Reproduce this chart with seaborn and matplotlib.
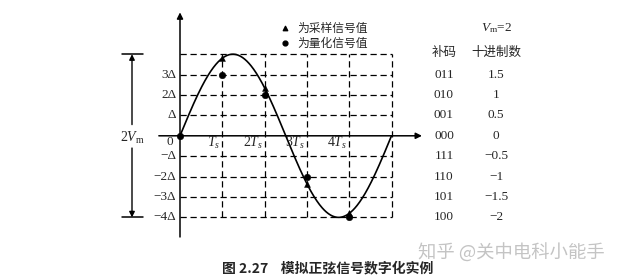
import numpy as np
import pandas as pd
import matplotlib
matplotlib.use("Agg")
import matplotlib.pyplot as plt
import seaborn as sns

# ---------------- data ----------------
amplitude = 4.0          # in units of delta
period = 5.0             # in units of Ts
sample_t = [1, 2, 3, 4]
sample_v = [3.8, 2.35, -2.35, -3.8]
quant_t = [0, 1, 2, 3, 4]
quant_v = [0, 3, 2, -2, -4]
grid_levels = [4, 3, 2, 1, -1, -2, -3, -4]
grid_times = [1, 2, 3, 4, 5]
ytick_levels = [3, 2, 1, -1, -2, -3, -4]
ytick_labels = ["3Δ", "2Δ", "Δ", "−Δ", "−2Δ", "−3Δ", "−4Δ"]
xtick_times = [1, 2, 3, 4]
xtick_labels = [r"$T_s$", r"$2T_s$", r"$3T_s$", r"$4T_s$"]
code_levels = [3, 2, 1, 0, -1, -2, -3, -4]
codes = ["011", "010", "001", "000", "111", "110", "101", "100"]
decimals = ["1.5", "1", "0.5", "0", "−0.5", "−1", "−1.5", "−2"]

# ---------------- style ----------------
sns.set_theme(style="white")
plt.rcParams["font.family"] = ["Liberation Serif", "Noto Sans CJK SC", "DejaVu Sans"]
plt.rcParams["mathtext.fontset"] = "custom"
plt.rcParams["mathtext.it"] = "Liberation Serif:italic"
plt.rcParams["mathtext.rm"] = "Liberation Serif"
CJK = ["Noto Sans CJK SC", "DejaVu Sans"]

W, H = 634, 277
fig = plt.figure(figsize=(W / 100, H / 100), dpi=100)
ax = fig.add_axes([0, 0, 1, 1])
px_t, px_d = 42.3, 20.4
x0, y0 = 180, 135.8
ax.set_xlim(-x0 / px_t, (W - x0) / px_t)
ax.set_ylim((y0 - H) / px_d, y0 / px_d)
ax.axis("off")

# grid (dashed)
for lv in grid_levels:
    ax.plot([0, 5], [lv, lv], color="black", lw=0.9, ls=(0, (5, 3)), zorder=1)
for tt in grid_times:
    ax.plot([tt, tt], [-4, 4], color="black", lw=0.9, ls=(0, (5, 3)), zorder=1)

# axes with arrows
ax.annotate("", xy=(5.72, 0), xytext=(-0.5, 0),
            arrowprops=dict(arrowstyle="-|>", color="black", lw=1.1,
                            mutation_scale=9, shrinkA=0, shrinkB=0))
ax.annotate("", xy=(0, 6.05), xytext=(0, -4.96),
            arrowprops=dict(arrowstyle="-|>", color="black", lw=1.1,
                            mutation_scale=9, shrinkA=0, shrinkB=0))

# sine curve
t = np.linspace(0, period, 400)
curve = pd.DataFrame({"t": t, "v": amplitude * np.sin(2 * np.pi * t / period)})
sns.lineplot(data=curve, x="t", y="v", ax=ax, color="black", lw=1.2, zorder=3,
             estimator=None, sort=False)

# markers
samples = pd.DataFrame({"t": sample_t, "v": sample_v})
quants = pd.DataFrame({"t": quant_t, "v": quant_v})
sns.scatterplot(data=samples, x="t", y="v", ax=ax, marker="^", s=18,
                color="black", edgecolor="black", zorder=4)
sns.scatterplot(data=quants, x="t", y="v", ax=ax, marker="o", s=22,
                color="black", edgecolor="black", zorder=5)

# tick labels
for lv, lab in zip(ytick_levels, ytick_labels):
    ax.text(-0.09, lv, lab, ha="right", va="center", fontsize=9.5)
ax.text(-0.24, -0.3, "0", ha="center", va="center", fontsize=9.5)
for tt, lab in zip(xtick_times, xtick_labels):
    ax.text(tt - 0.04, -0.33, lab, ha="right", va="center", fontsize=10)

# 2Vm bracket
xb = (132 - x0) / px_t
ax.plot([(122 - x0) / px_t, (143 - x0) / px_t], [4, 4], color="black", lw=1.1)
ax.plot([(122 - x0) / px_t, (143 - x0) / px_t], [-4, -4], color="black", lw=1.1)
ax.annotate("", xy=(xb, 4), xytext=(xb, 0.55),
            arrowprops=dict(arrowstyle="-|>", color="black", lw=1.0,
                            mutation_scale=8, shrinkA=0, shrinkB=0))
ax.annotate("", xy=(xb, -4), xytext=(xb, -0.6),
            arrowprops=dict(arrowstyle="-|>", color="black", lw=1.0,
                            mutation_scale=8, shrinkA=0, shrinkB=0))
ax.text(xb, -0.1, r"$2V_\mathrm{m}$", ha="center", va="center", fontsize=10)

# legend
lx = (285 - x0) / px_t
ax.scatter([lx], [(y0 - 28) / px_d], marker="^", s=10, color="black")
ax.scatter([lx], [(y0 - 43) / px_d], marker="o", s=12, color="black")
ax.text((297 - x0) / px_t, (y0 - 28) / px_d, "为采样信号值", ha="left",
        va="center", fontsize=8.5, family=CJK)
ax.text((297 - x0) / px_t, (y0 - 43) / px_d, "为量化信号值", ha="left",
        va="center", fontsize=8.5, family=CJK)

# table
cx = (444 - x0) / px_t
dx = (496 - x0) / px_t
ax.text(dx, (y0 - 28) / px_d, r"$V_\mathrm{m}$=2", ha="center", va="center",
        fontsize=9.5)
ax.text(cx, (y0 - 52) / px_d, "补码", ha="center", va="center", fontsize=9,
        family=CJK)
ax.text(dx, (y0 - 52) / px_d, "十进制数", ha="center", va="center", fontsize=9,
        family=CJK)
for lv, c, d in zip(code_levels, codes, decimals):
    ax.text(cx, lv, c, ha="center", va="center", fontsize=9.5)
    ax.text(dx, lv, d, ha="center", va="center", fontsize=9.5)

# caption and watermark
ax.text((222 - x0) / px_t, (y0 - 268) / px_d, "图 2.27    模拟正弦信号数字化实例",
        ha="left", va="center", fontsize=10, fontweight="bold", family=CJK)
ax.text((418 - x0) / px_t, (y0 - 253) / px_d, "知乎 @关中电科小能手",
        ha="left", va="center", fontsize=13.2, color="#c4c4c4", family=CJK)

fig.savefig("out.png", dpi=100)
